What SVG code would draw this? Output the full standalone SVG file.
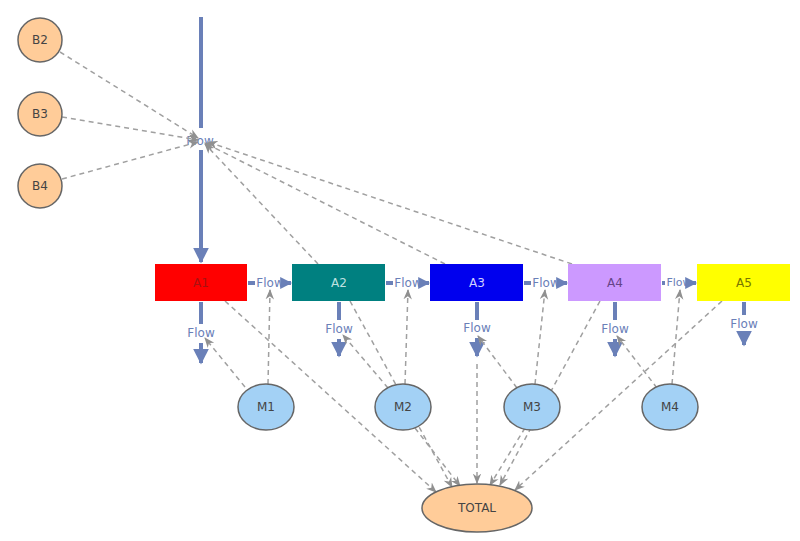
<svg xmlns="http://www.w3.org/2000/svg" width="800" height="541" viewBox="0 0 800 541">
<defs>
<marker id="ga" viewBox="0 0 10 10" refX="9" refY="5" markerWidth="7" markerHeight="7" orient="auto"><path d="M0,1 L10,5 L0,9 L3,5 Z" fill="#909090"/></marker>
<marker id="ba" viewBox="0 0 10 10" refX="9" refY="5" markerWidth="4" markerHeight="4" orient="auto"><path d="M0,0 L10,5 L0,10 Z" fill="#6a80b8"/></marker>
<marker id="bs" viewBox="0 0 10 10" refX="9" refY="5" markerWidth="3" markerHeight="3" orient="auto"><path d="M0,0 L10,5 L0,10 Z" fill="#6a80b8"/></marker>
<style>
text{font-family:"DejaVu Sans",sans-serif;font-size:12px;text-anchor:middle;dominant-baseline:middle}
.d{stroke:#a0a0a0;stroke-width:1.5;stroke-dasharray:5,4;fill:none;marker-end:url(#ga)}
.f{stroke:#6a80b8;stroke-width:4;fill:none}
.fl{fill:#6a80b8}
.c{stroke:#666;stroke-width:1.5}
</style>
</defs>
<g id="connectors">
<line class="f" x1="201" y1="17" x2="201" y2="128"/>
<line class="f" x1="201" y1="150" x2="201" y2="262" marker-end="url(#ba)"/>
<text class="fl" x="200" y="141">Flow</text>
<g>
<line class="f" x1="248" y1="283" x2="255" y2="283"/><text class="fl" x="270" y="283">Flow</text><line class="f" x1="285" y1="283" x2="291" y2="283" marker-end="url(#bs)"/>
<line class="f" x1="386" y1="283" x2="393" y2="283"/><text class="fl" x="408" y="283">Flow</text><line class="f" x1="423" y1="283" x2="429" y2="283" marker-end="url(#bs)"/>
<line class="f" x1="524" y1="283" x2="531" y2="283"/><text class="fl" x="546" y="283">Flow</text><line class="f" x1="561" y1="283" x2="567" y2="283" marker-end="url(#bs)"/>
<line class="f" x1="662" y1="283" x2="665" y2="283"/><text class="fl" x="679" y="283" style="font-size:11px">Flow</text><line class="f" x1="692" y1="283" x2="696" y2="283" marker-end="url(#bs)"/>
</g>
<g>
<line class="f" x1="201" y1="302" x2="201" y2="324"/><text class="fl" x="201" y="333">Flow</text><line class="f" x1="201" y1="343" x2="201" y2="363" marker-end="url(#ba)"/>
<line class="f" x1="339" y1="302" x2="339" y2="320"/><text class="fl" x="339" y="329">Flow</text><line class="f" x1="339" y1="339" x2="339" y2="356" marker-end="url(#ba)"/>
<line class="f" x1="477" y1="302" x2="477" y2="320"/><text class="fl" x="477" y="328">Flow</text><line class="f" x1="477" y1="338" x2="477" y2="356" marker-end="url(#ba)"/>
<line class="f" x1="615" y1="302" x2="615" y2="320"/><text class="fl" x="615" y="329">Flow</text><line class="f" x1="615" y1="339" x2="615" y2="356" marker-end="url(#ba)"/>
<line class="f" x1="744" y1="302" x2="744" y2="315"/><text class="fl" x="744" y="324">Flow</text><line class="f" x1="744" y1="334" x2="744" y2="345" marker-end="url(#ba)"/>
</g>
<path class="d" d="M60,52 L198,138"/>
<path class="d" d="M62,117 L198,140"/>
<path class="d" d="M62,179 L198,142"/>
<path class="d" d="M318,264 L205,144"/>
<path class="d" d="M445,264 L205,143"/>
<path class="d" d="M572,264 L208,142"/>
<path class="d" d="M245,387 L205,338"/>
<path class="d" d="M268,384 L270,290"/>
<path class="d" d="M388,388 L343,335"/>
<path class="d" d="M405,384 L408,290"/>
<path class="d" d="M517,388 L478,336"/>
<path class="d" d="M535,384 L545,290"/>
<path class="d" d="M657,388 L617,336"/>
<path class="d" d="M672,384 L680,290"/>
<path class="d" d="M225,301 L436,492"/>
<path class="d" d="M350,301 L452,487"/>
<path class="d" d="M415,428 L460,486"/>
<path class="d" d="M477,364 L477,483"/>
<path class="d" d="M525,428 L490,485"/>
<path class="d" d="M600,301 L500,485"/>
<path class="d" d="M722,301 L515,490"/>
</g>
<g id="B2"><circle class="c" cx="40" cy="40" r="22" fill="#ffcc99"/><text x="40" y="40" fill="#444">B2</text></g>
<g id="B3"><circle class="c" cx="40" cy="114" r="22" fill="#ffcc99"/><text x="40" y="114" fill="#444">B3</text></g>
<g id="B4"><circle class="c" cx="40" cy="186" r="22" fill="#ffcc99"/><text x="40" y="186" fill="#444">B4</text></g>
<g id="A1"><rect x="155" y="264" width="92" height="37" fill="#ff0000"/><text x="201" y="283" fill="#aa1010">A1</text></g>
<g id="A2"><rect x="292" y="264" width="93" height="37" fill="#008080"/><text x="339" y="283" fill="#bfe0e0">A2</text></g>
<g id="A3"><rect x="430" y="264" width="93" height="37" fill="#0000ee"/><text x="477" y="283" fill="#d0d0ff">A3</text></g>
<g id="A4"><rect x="568" y="264" width="93" height="37" fill="#cc99ff"/><text x="615" y="283" fill="#664488">A4</text></g>
<g id="A5"><rect x="697" y="264" width="93" height="37" fill="#ffff00"/><text x="744" y="283" fill="#777700">A5</text></g>
<g id="M1"><ellipse class="c" cx="266" cy="407" rx="28" ry="23" fill="#a3d1f5"/><text x="266" y="407" fill="#444">M1</text></g>
<g id="M2"><ellipse class="c" cx="403" cy="407" rx="28" ry="23" fill="#a3d1f5"/><text x="403" y="407" fill="#444">M2</text></g>
<g id="M3"><ellipse class="c" cx="532" cy="407" rx="28" ry="23" fill="#a3d1f5"/><text x="532" y="407" fill="#444">M3</text></g>
<g id="M4"><ellipse class="c" cx="670" cy="407" rx="28" ry="23" fill="#a3d1f5"/><text x="670" y="407" fill="#444">M4</text></g>
<g id="TOTAL"><ellipse class="c" cx="477" cy="508" rx="55" ry="24" fill="#ffcc99"/><text x="477" y="508" fill="#444">TOTAL</text></g>
</svg>
